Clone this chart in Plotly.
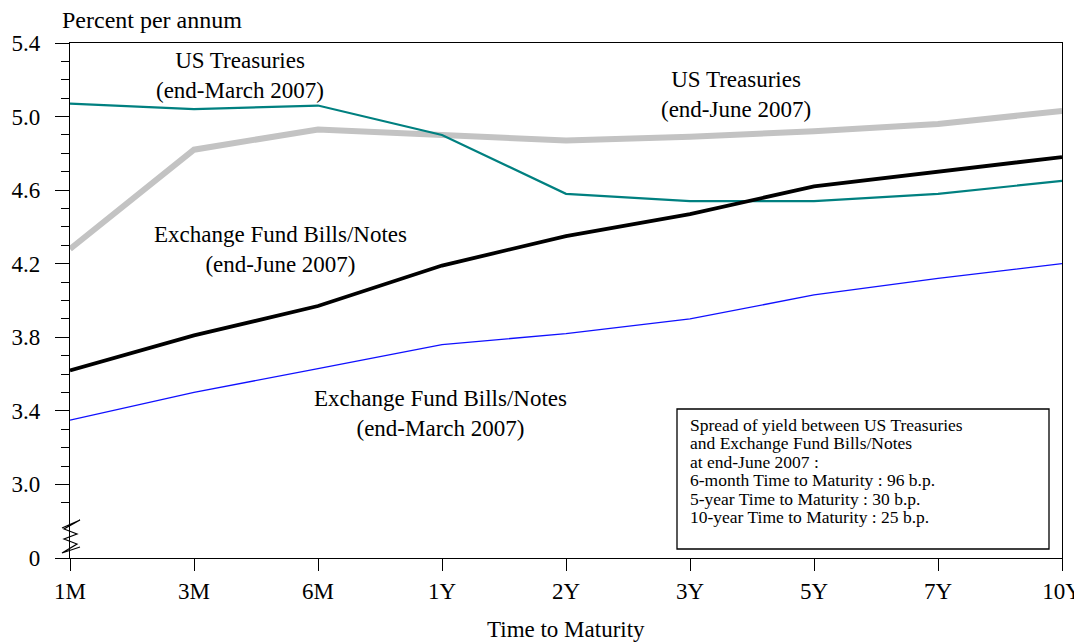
import plotly.graph_objects as go

maturities = ["1M", "3M", "6M", "1Y", "2Y", "3Y", "5Y", "7Y", "10Y"]
us_mar = [5.07, 5.04, 5.06, 4.90, 4.58, 4.54, 4.54, 4.58, 4.65]
us_jun = [4.28, 4.82, 4.93, 4.90, 4.87, 4.89, 4.92, 4.96, 5.03]
ef_jun = [3.62, 3.81, 3.97, 4.19, 4.35, 4.47, 4.62, 4.70, 4.78]
ef_mar = [3.35, 3.50, 3.63, 3.76, 3.82, 3.90, 4.03, 4.12, 4.20]

ytick_vals = [2.6, 3.0, 3.4, 3.8, 4.2, 4.6, 5.0, 5.4]
ytick_text = ["0", "3.0", "3.4", "3.8", "4.2", "4.6", "5.0", "5.4"]
yminor_vals = [round(2.9 + 0.1 * i, 1) for i in range(25)]

box_lines = [
    "Spread of yield between US Treasuries",
    "and Exchange Fund Bills/Notes",
    "at end-June 2007 :",
    "6-month Time to Maturity : 96 b.p.",
    "5-year Time to Maturity : 30 b.p.",
    "10-year Time to Maturity : 25 b.p.",
]

FONT = "Liberation Serif"
OFF = 8  # page body margin in the browser
W, H = 1082 - OFF, 642 - OFF
# plot area in page pixels: x 70..1062, y 43..558
ML, MR, MT, MB = 70 - OFF, W - (1062 - OFF), 43 - OFF, H - (558 - OFF)
PW, PH = W - ML - MR, H - MT - MB


def px(x):
    """page pixel x -> paper coordinate"""
    return (x - OFF - ML) / PW


def py(y):
    """page pixel y -> paper coordinate"""
    return (H - MB - (y - OFF)) / PH


fig = go.Figure()
fig.add_trace(go.Scatter(x=maturities, y=us_jun, mode="lines",
                         line=dict(color="#c3c3c3", width=6), showlegend=False))
fig.add_trace(go.Scatter(x=maturities, y=us_mar, mode="lines",
                         line=dict(color="#008080", width=2.2), showlegend=False))
fig.add_trace(go.Scatter(x=maturities, y=ef_mar, mode="lines",
                         line=dict(color="#1010ff", width=1.3), showlegend=False))
fig.add_trace(go.Scatter(x=maturities, y=ef_jun, mode="lines",
                         line=dict(color="#000000", width=3.8), showlegend=False))

fig.update_layout(
    width=W, height=H,
    margin=dict(l=ML, r=MR, t=MT, b=MB, autoexpand=False),
    paper_bgcolor="white", plot_bgcolor="white",
    font=dict(family=FONT, size=23, color="black"),
    xaxis=dict(type="category", range=[0, 8], showgrid=False, zeroline=False,
               automargin=False,
               showline=True, linecolor="black", linewidth=1.4, mirror=True,
               ticks="outside", ticklen=12, tickcolor="black", tickwidth=1.4,
               ticklabelstandoff=0,
               tickfont=dict(family=FONT, size=23)),
    yaxis=dict(range=[2.6, 5.4], showgrid=False, zeroline=False,
               automargin=False,
               showline=True, linecolor="black", linewidth=1.4, mirror=True,
               tickmode="array", tickvals=ytick_vals, ticktext=ytick_text,
               ticks="outside", ticklen=14, tickcolor="black", tickwidth=1.4,
               ticklabelstandoff=10,
               tickfont=dict(family=FONT, size=23),
               minor=dict(tickmode="array", tickvals=yminor_vals, ticks="outside",
                          ticklen=8, tickcolor="black", tickwidth=1.4, showgrid=False)),
)

ann = [
    dict(text="US Treasuries<br>(end-March 2007)", x=1.37, y=5.226),
    dict(text="US Treasuries<br>(end-June 2007)", x=5.37, y=5.118),
    dict(text="Exchange Fund Bills/Notes<br>(end-June 2007)", x=1.70, y=4.276),
    dict(text="Exchange Fund Bills/Notes<br>(end-March 2007)", x=2.99, y=3.386),
]
for a in ann:
    fig.add_annotation(xref="x", yref="y", showarrow=False, xanchor="center",
                       yanchor="middle", font=dict(family=FONT, size=23), **a)

fig.add_annotation(text="Percent per annum", xref="paper", yref="paper",
                   x=px(60), y=py(20), xanchor="left", yanchor="middle",
                   showarrow=False, font=dict(family=FONT, size=24))
fig.add_annotation(text="Time to Maturity", xref="paper", yref="paper",
                   x=px(566), y=py(629), xanchor="center", yanchor="middle",
                   showarrow=False, font=dict(family=FONT, size=23))

fig.add_shape(type="rect", xref="paper", yref="paper",
              x0=px(677), x1=px(1049), y0=py(549), y1=py(409),
              line=dict(color="black", width=1.3), fillcolor="white", layer="above")
for i, t in enumerate(box_lines):
    fig.add_annotation(text=t, xref="paper", yref="paper", x=px(688),
                       y=py(425 + 18.4 * i), xanchor="left", yanchor="middle",
                       showarrow=False, font=dict(family=FONT, size=17.5))

zig = [(62, 528), (80, 520), (64, 529), (77, 534), (64, 539), (77, 544),
       (62, 553), (80, 547)]
path = "M " + " L ".join(f"{px(a):.5f},{py(b):.5f}" for a, b in zig)
fig.add_shape(type="path", xref="paper", yref="paper", path=path,
              line=dict(color="black", width=1.2))

fig.write_html("out.html")
